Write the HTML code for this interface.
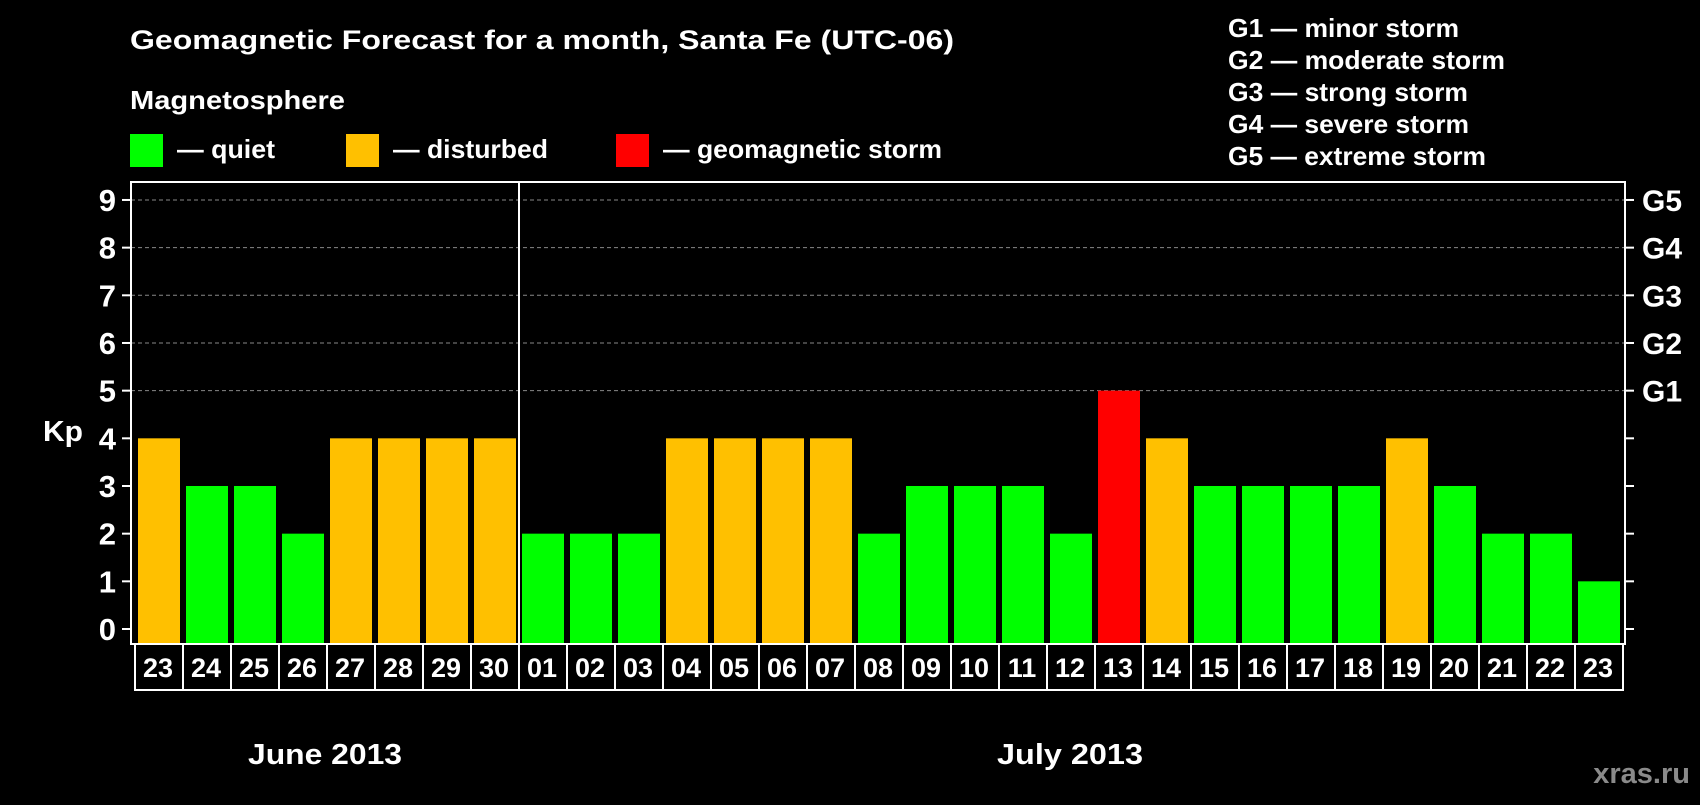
<!DOCTYPE html>
<html><head><meta charset="utf-8"><style>
body{margin:0;background:#000;width:1700px;height:800px;overflow:hidden;font-family:"Liberation Sans",Arial,sans-serif;}
svg text{font-family:"Liberation Sans",Arial,sans-serif;font-weight:bold;fill:#fff;}
</style></head><body>
<svg id="c" width="1700" height="800">
<text x="130" y="49" font-size="27" textLength="824" lengthAdjust="spacingAndGlyphs">Geomagnetic Forecast for a month, Santa Fe (UTC-06)</text>
<text x="130" y="109" font-size="26" textLength="215" lengthAdjust="spacingAndGlyphs">Magnetosphere</text>
<g><rect x="130" y="134" width="33" height="33" fill="#00ff00"/><text x="177" y="158" font-size="26" textLength="98" lengthAdjust="spacingAndGlyphs">— quiet</text></g>
<g><rect x="346" y="134" width="33" height="33" fill="#ffc000"/><text x="393" y="158" font-size="26" textLength="155" lengthAdjust="spacingAndGlyphs">— disturbed</text></g>
<g><rect x="616" y="134" width="33" height="33" fill="#ff0000"/><text x="663" y="158" font-size="26" textLength="279" lengthAdjust="spacingAndGlyphs">— geomagnetic storm</text></g>
<g font-size="26">
<text x="1228" y="37" textLength="231" lengthAdjust="spacingAndGlyphs">G1 — minor storm</text>
<text x="1228" y="69" textLength="277" lengthAdjust="spacingAndGlyphs">G2 — moderate storm</text>
<text x="1228" y="101" textLength="240" lengthAdjust="spacingAndGlyphs">G3 — strong storm</text>
<text x="1228" y="133" textLength="241" lengthAdjust="spacingAndGlyphs">G4 — severe storm</text>
<text x="1228" y="165" textLength="258" lengthAdjust="spacingAndGlyphs">G5 — extreme storm</text>
</g>
<text x="43" y="441" font-size="29" textLength="40" lengthAdjust="spacingAndGlyphs">Kp</text>
<text x="248" y="764" font-size="29" textLength="154" lengthAdjust="spacingAndGlyphs">June 2013</text>
<text x="997" y="764" font-size="29" textLength="146" lengthAdjust="spacingAndGlyphs">July 2013</text>
<text x="1690" y="783" font-size="29" text-anchor="end" style="fill:#8a8a8a">xras.ru</text>
<g id="g"></g>
</svg>
<script>
const days=["23","24","25","26","27","28","29","30","01","02","03","04","05","06","07","08","09","10","11","12","13","14","15","16","17","18","19","20","21","22","23"];
const kp=[4,3,3,2,4,4,4,4,2,2,2,4,4,4,4,2,3,3,3,2,5,4,3,3,3,3,4,3,2,2,1];
const yTicks=[0,1,2,3,4,5,6,7,8,9];
const gLabels=["G1","G2","G3","G4","G5"];
const gLevels=[5,6,7,8,9];
const NS="http://www.w3.org/2000/svg";
const g=document.getElementById('g');
const L=131,R=1625,T=182,B=644,x0=138,pitch=48,bw=42;
const y=v=>629-v*47.67;
const x=i=>x0+i*pitch;
function mk(t,a){const e=document.createElementNS(NS,t);for(const k in a)e.setAttribute(k,a[k]);g.appendChild(e);return e;}
yTicks.forEach(v=>{
 if(v>=5){const l=mk('line',{x1:L,x2:R,y1:y(v),y2:y(v),stroke:'#888','stroke-dasharray':'4,3','stroke-width':1});
 
 }
 const t1=mk('line',{x1:L-9,x2:L,y1:y(v),y2:y(v),stroke:'#fff','stroke-width':2});
 
 
 const t2=mk('line',{x1:R,x2:R+9,y1:y(v),y2:y(v),stroke:'#fff','stroke-width':2});
 
 
 const tx=mk('text',{x:116,y:y(v)+11,'font-size':31,'text-anchor':'end'});tx.textContent=v;
 
 
});
gLabels.forEach((s,i)=>{const t=mk('text',{x:1642,y:y(gLevels[i])+11,'font-size':30});t.textContent=s;
 
 });
kp.forEach((v,i)=>{
 const c=v>=5?'#ff0000':v>=4?'#ffc000':'#00ff00';
 const r=mk('rect',{x:x(i),y:y(v),width:bw,height:B-1-y(v),fill:c});
 
 
 const bx=mk('rect',{x:x(i)-3,y:B,width:pitch,height:46,fill:'none',stroke:'#fff','stroke-width':2});
 
 
 const t=mk('text',{x:x(i)+bw/2-1,y:B+33,'font-size':27,'text-anchor':'middle'});t.textContent=days[i];
 
 
});
const fr=mk('rect',{x:L,y:T,width:R-L,height:B-T,fill:'none',stroke:'#fff','stroke-width':2});


const dv=mk('line',{x1:x(8)-3,x2:x(8)-3,y1:T,y2:B,stroke:'#fff','stroke-width':2});


</script>
</body></html>
